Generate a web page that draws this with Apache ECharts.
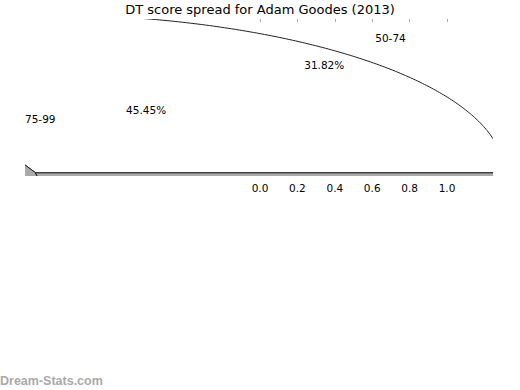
<!DOCTYPE html>
<html><head><meta charset="utf-8">
<script src="https://cdn.jsdelivr.net/npm/echarts@6/dist/echarts.min.js"></script>
<style>html,body{margin:0;padding:0;background:#fff}#c{width:520px;height:390px}</style>
</head><body><div id="c"></div>
<script>
// ---- data ----
const chartTitle = 'DT score spread for Adam Goodes (2013)';
const categories = ['50-74', '75-99'];
const shares = [31.82, 45.45];
const tickValues = [0.0, 0.2, 0.4, 0.6, 0.8, 1.0];
const tickLabels = ['0.0', '0.2', '0.4', '0.6', '0.8', '1.0'];
const watermark = 'Dream-Stats.com';

// ---- layout / style ----
const X_MIN = -1.257, X_MAX = 1.246, Y_MIN = -1.25, Y_MAX = 1.23;
const WEDGE_CENTER = [-1.2, -1.2], WEDGE_R = 2.505;
const LABEL_CENTER = [0, -0.025], LABEL_DIST = 1.14, PCT_DIST = 0.635;
const wedgeColors = ['#ffffff', '#aaaaaa'], restColor = '#aaaaaa';
const FONT = 'DejaVu Sans';

// wedges from cumulative shares (matplotlib-style: start 0deg, counter-clockwise)
let acc = 0;
const wedges = [];
shares.forEach((s, i) => { const a0 = acc * 3.6; acc += s; wedges.push([a0, acc * 3.6, i]); });
wedges.push([acc * 3.6, 360, -1]);

// label definitions
const labelDefs = [];
wedges.forEach(w => {
  if (w[2] < 0) return;
  const mid = (w[0] + w[1]) / 2 * Math.PI / 180;
  const c = Math.cos(mid), s = Math.sin(mid);
  labelDefs.push({ pos: [LABEL_CENTER[0] + LABEL_DIST * c, LABEL_CENTER[1] + LABEL_DIST * s],
                   text: categories[w[2]], align: c >= 0 ? 'left' : 'right' });
  labelDefs.push({ pos: [LABEL_CENTER[0] + PCT_DIST * c, LABEL_CENTER[1] + PCT_DIST * s],
                   text: shares[w[2]].toFixed(2) + '%', align: 'center' });
});

function clipRect(params) {
  const cs = params.coordSys;
  return { type: 'rect', shape: { x: cs.x, y: cs.y, width: cs.width, height: cs.height } };
}

function renderWedge(params, api) {
  const w = wedges[params.dataIndex];
  const a0 = w[0], a1 = w[1];
  const pts = [api.coord(WEDGE_CENTER)];
  const n = Math.max(2, Math.ceil((a1 - a0) / 0.5));
  for (let k = 0; k <= n; k++) {
    const t = (a0 + (a1 - a0) * k / n) * Math.PI / 180;
    pts.push(api.coord([WEDGE_CENTER[0] + WEDGE_R * Math.cos(t), WEDGE_CENTER[1] + WEDGE_R * Math.sin(t)]));
  }
  return {
    type: 'group',
    clipPath: clipRect(params),
    children: [{
      type: 'polygon',
      shape: { points: pts },
      style: { fill: w[2] >= 0 ? wedgeColors[w[2]] : restColor, stroke: '#222', lineWidth: 1 }
    }]
  };
}

function renderLabel(params, api) {
  const d = labelDefs[params.dataIndex];
  const p = api.coord(d.pos);
  return {
    type: 'text', x: p[0], y: p[1],
    style: { text: d.text, textAlign: d.align, textVerticalAlign: 'middle', align: d.align, verticalAlign: 'middle',
             fontFamily: FONT, fontSize: 10.5, fill: '#000' }
  };
}

const chart = echarts.init(document.getElementById('c'), null, { renderer: 'svg' });
chart.setOption({
  animation: false,
  backgroundColor: '#ffffff',
  title: { text: chartTitle, left: 'center', top: 3, padding: 0,
           textStyle: { fontFamily: FONT, fontSize: 13, fontWeight: 'normal', color: '#000' } },
  grid: { left: 25, right: 27, top: 19, bottom: 214, containLabel: false, outerBoundsMode: 'none' },
  xAxis: [
    { type: 'value', min: X_MIN, max: X_MAX, position: 'bottom',
      splitLine: { show: false }, axisLine: { show: false },
      axisTick: { show: true, customValues: tickValues, length: 3, lineStyle: { color: '#aaa' } },
      axisLabel: { customValues: tickValues, fontFamily: FONT, fontSize: 10.5, color: '#000', margin: 6,
                   formatter: v => { const i = tickValues.findIndex(t => Math.abs(t - v) < 1e-9); return i >= 0 ? tickLabels[i] : ''; } } },
    { type: 'value', min: X_MIN, max: X_MAX, position: 'top',
      splitLine: { show: false }, axisLine: { show: false },
      axisTick: { show: true, inside: true, customValues: tickValues, length: 3, lineStyle: { color: '#aaa' } },
      axisLabel: { show: false } }
  ],
  yAxis: { type: 'value', min: Y_MIN, max: Y_MAX, show: false },
  graphic: [{ type: 'text', left: 0, top: 374,
              style: { text: watermark, fill: '#aaa', font: 'bold 12.5px "Liberation Sans"' } }],
  series: [
    { type: 'custom', clip: true, renderItem: renderWedge, data: wedges.map(w => [w[0], w[1]]), silent: true },
    { type: 'custom', renderItem: renderLabel, data: labelDefs.map(d => d.pos), silent: true }
  ]
});
</script></body></html>
